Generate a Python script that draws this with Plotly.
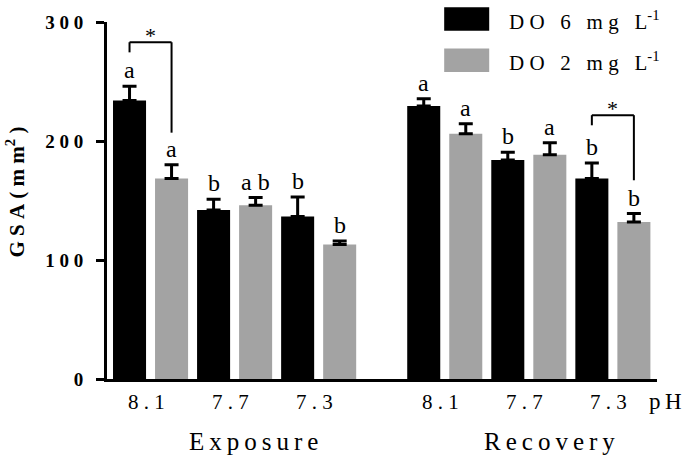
import plotly.graph_objects as go

# ---- data ----
ph_labels = ["8.1", "7.7", "7.3", "8.1", "7.7", "7.3"]
phases = ["Exposure", "Recovery"]
do6_mean = [234, 142, 136.5, 229.5, 184, 168.5]
do6_err = [12, 9, 16.5, 6, 6.5, 13]
do2_mean = [168.5, 146, 113, 206, 188.5, 132]
do2_err = [11.5, 6.5, 3, 8.5, 10, 7]
do6_letters = ["a", "b", "b", "a", "b", "b"]
do2_letters = ["a", "a b", "b", "a", "a", "b"]
y_ticks = [0, 100, 200, 300]
# significance brackets: (group index, bracket level)
sig_pairs = [(0, 283), (5, 221.7)]

# ---- layout helpers ----
W, H = 685, 456
L, R, T, B = 107, 28.3, 15, 77
PW, PH = W - L - R, H - T - B
FONT = "Liberation Serif, Times New Roman, Times, serif"
NB = "\u00a0"

def spaced(s, gap=NB):
    return gap.join(s)

def black_slot(i):
    return 2 * i + (1 if i >= 3 else 0)

xb = [black_slot(i) for i in range(6)]
xg = [s + 1 for s in xb]

def px(x):
    return (x - L) / PW

def ppy(y):
    return (T + PH - y) / PH

fig = go.Figure()
fig.add_trace(go.Bar(
    x=xb, y=do6_mean, width=0.786, marker=dict(color="black", line=dict(width=0)),
    error_y=dict(type="data", array=do6_err, arrayminus=[0] * 6, symmetric=False,
                 thickness=3, width=7, color="black"),
    name="DO 6 mg L-1", showlegend=False, hoverinfo="skip"))
fig.add_trace(go.Bar(
    x=xg, y=do2_mean, width=0.786, marker=dict(color="#a3a3a3", line=dict(width=0)),
    error_y=dict(type="data", array=do2_err, arrayminus=[0] * 6, symmetric=False,
                 thickness=3, width=7, color="black"),
    name="DO 2 mg L-1", showlegend=False, hoverinfo="skip"))

ann = []
for xs, m, e, lets in [(xb, do6_mean, do6_err, do6_letters), (xg, do2_mean, do2_err, do2_letters)]:
    for x, v, er, t in zip(xs, m, e, lets):
        ann.append(dict(x=x, y=v + er, text=t.replace(" ", NB), showarrow=False, yanchor="bottom",
                        yshift=1, font=dict(family=FONT, size=24, color="black")))

shapes = []
for gi, lvl in sig_pairs:
    x0, x1 = xb[gi], xg[gi]
    top1 = do2_mean[gi] + do2_err[gi]
    leg0 = lvl - 8.5
    leg1 = top1 + 27 if gi == 0 else top1 + 28
    for (a0, a1, b0, b1) in [(x0, x0, leg0, lvl), (x0, x1, lvl, lvl), (x1, x1, leg1, lvl)]:
        shapes.append(dict(type="line", x0=a0, x1=a1, y0=b0, y1=b1, xref="x", yref="y",
                           line=dict(color="black", width=2)))
    ann.append(dict(x=(x0 + x1) / 2, y=lvl, text="*", showarrow=False, yanchor="bottom",
                    yshift=-8, font=dict(family=FONT, size=22, color="black")))

# legend
for (y0, y1), col, num in [((0, 24), "black", "6"), ((42, 66), "#a3a3a3", "2")]:
    shapes.append(dict(type="rect", xref="paper", yref="paper", x0=px(444), x1=px(489),
                       y0=ppy(y1), y1=ppy(y0), fillcolor=col, line=dict(width=0)))
    txt = ("D" + NB + "O" + NB * 3 + num + NB * 3 + "m" + NB + "g" + NB * 3 + "L"
           + "<sup>-1</sup>")
    ann.append(dict(xref="paper", yref="paper", x=px(507), y=ppy((y0 + y1) / 2 + 1),
                    xanchor="left", yanchor="middle", text=txt, showarrow=False,
                    font=dict(family=FONT, size=21, color="black")))

# x tick labels
for i, lab in enumerate(ph_labels):
    ann.append(dict(x=xb[i] + 0.4, y=ppy(402.5), yref="paper", text=spaced(lab),
                    showarrow=False, yanchor="middle",
                    font=dict(family=FONT, size=21, color="black")))
ann.append(dict(xref="paper", yref="paper", x=px(647), y=ppy(402), xanchor="left",
                yanchor="middle", text="p\u2009H", showarrow=False,
                font=dict(family=FONT, size=23, color="black")))
for xc, ph in zip([2.96, 9.99], phases):
    ann.append(dict(x=xc, y=ppy(443), yref="paper", text="\u2009".join(ph), showarrow=False,
                    yanchor="middle", font=dict(family=FONT, size=25, color="black")))

# y title
ann.append(dict(xref="paper", yref="paper", x=px(16), y=ppy(188), textangle=-90,
                text="<b>" + NB.join("GSA(mm") + "<sup>2</sup>" + NB + ")</b>", showarrow=False,
                xanchor="center", yanchor="middle",
                font=dict(family=FONT, size=21, color="black")))

fig.update_layout(
    width=W, height=H, margin=dict(l=L, r=R, t=T, b=B, pad=0),
    paper_bgcolor="white", plot_bgcolor="white", barmode="overlay",
    font=dict(family=FONT, color="black"),
    xaxis=dict(range=[-0.536, 12.55], showgrid=False, zeroline=False, showline=True,
               linecolor="black", linewidth=3, showticklabels=False, ticks=""),
    yaxis=dict(range=[0, 300], showgrid=False, zeroline=False, showline=True,
               linecolor="black", linewidth=3, ticks="outside", ticklen=8, tickwidth=3,
               tickcolor="black", tickvals=y_ticks,
               ticktext=["<b>" + NB.join(str(v)) + "</b>" for v in y_ticks],
               tickfont=dict(family=FONT, size=19, color="black"), ticklabelstandoff=9),
    annotations=ann, shapes=shapes,
)
fig.write_html("out.html", config={"displayModeBar": False},
               post_script="document.body.style.margin='0';document.body.style.overflow='hidden';")
